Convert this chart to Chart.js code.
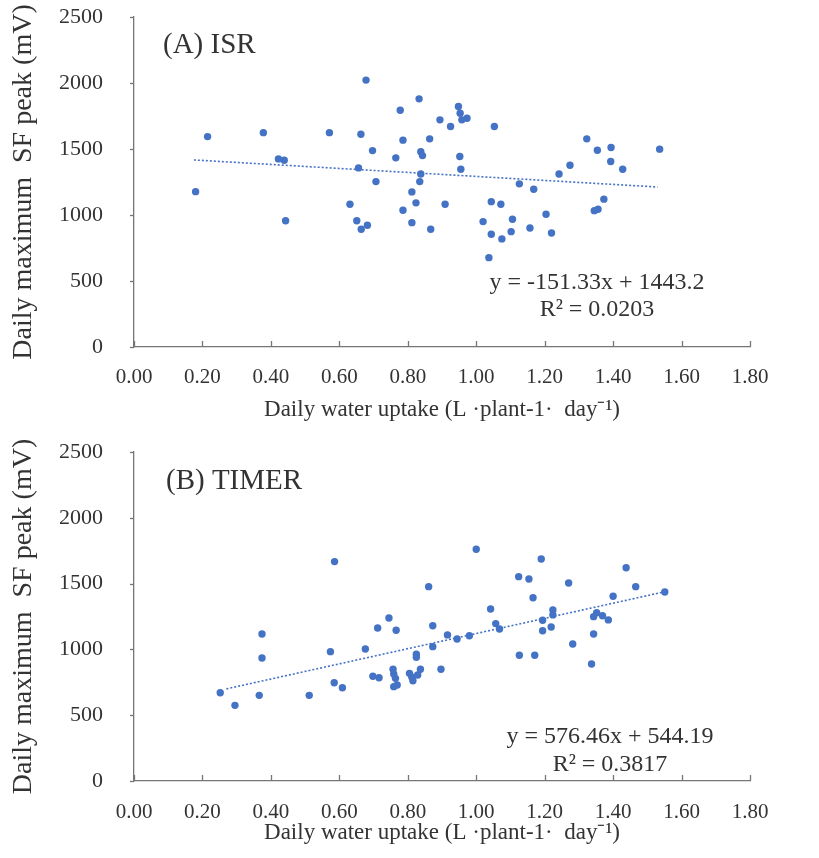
<!DOCTYPE html>
<html>
<head>
<meta charset="utf-8">
<script src="https://cdn.jsdelivr.net/npm/chart.js@4.4.1/dist/chart.umd.min.js"></script>
<style>
  html, body { margin: 0; padding: 0; background: #ffffff; }
  #wrap { position: relative; width: 819px; height: 858px; }
  canvas { position: absolute; left: 0; display: block; }
  #c1 { top: 0; }
  #c2 { top: 429px; }
</style>
</head>
<body>
<div id="wrap">
  <canvas id="c1" width="819" height="429"></canvas>
  <canvas id="c2" width="819" height="429"></canvas>
</div>
<script>
// ---------- DATA ----------
const xTickValues = [0, 0.2, 0.4, 0.6, 0.8, 1.0, 1.2, 1.4, 1.6, 1.8];
const yTickValues = [0, 500, 1000, 1500, 2000, 2500];

// (A) ISR
const isrWater = [0.18, 0.215, 0.378, 0.422, 0.439, 0.443, 0.571, 0.663, 0.678, 0.697,
  0.656, 0.707, 0.631, 0.651, 0.664, 0.682, 0.765, 0.778, 0.786, 0.833,
  0.838, 0.843, 0.838, 0.835, 0.812, 0.824, 0.786, 0.812, 0.867, 0.864,
  0.894, 0.925, 0.909, 0.948, 0.953, 0.958, 0.973, 0.952, 0.955, 1.053,
  1.126, 1.168, 1.044, 1.072, 1.020, 1.106, 1.044, 1.075, 1.102, 1.037,
  1.157, 1.204, 1.220, 1.242, 1.274, 1.323, 1.354, 1.394, 1.393, 1.428,
  1.373, 1.345, 1.356, 1.536];
const isrPeak = [1177, 1594, 1624, 1425, 1415, 957, 1624, 1612, 2022, 1488,
  1357, 1253, 1082, 957, 892, 922, 1433, 1794, 1567, 1880,
  1480, 1450, 1311, 1253, 1175, 1092, 1036, 942, 892, 1577,
  1721, 1670, 1082, 1822, 1771, 1721, 1733, 1443, 1347, 1670,
  1236, 1195, 1101, 1082, 950, 968, 854, 819, 874, 677,
  902, 1006, 864, 1311, 1377, 1577, 1491, 1511, 1405, 1347,
  1120, 1033, 1044, 1499];
const isrTrendX = [0.175, 1.53];
const isrTrendY = [1417, 1212];
const isrLabel = "(A) ISR";
const isrEquation = "y = -151.33x + 1443.2";
const isrR2 = "R\u00B2 = 0.0203";

// (B) TIMER
const timerWater = [0.252, 0.295, 0.366, 0.374, 0.374, 0.512, 0.574, 0.586, 0.585, 0.609,
  0.676, 0.698, 0.716, 0.712, 0.745, 0.766, 0.757, 0.759, 0.764, 0.759,
  0.769, 0.805, 0.812, 0.815, 0.829, 0.837, 0.825, 0.825, 0.861, 0.873,
  0.873, 0.897, 0.916, 0.944, 0.980, 1.000, 1.042, 1.057, 1.068, 1.124,
  1.154, 1.190, 1.166, 1.126, 1.171, 1.194, 1.194, 1.224, 1.224, 1.219,
  1.270, 1.282, 1.337, 1.343, 1.343, 1.352, 1.369, 1.386, 1.400, 1.438,
  1.466, 1.551];
const timerPeak = [671, 575, 651, 1117, 935, 651, 983, 1667, 747, 709,
  1003, 796, 785, 1163, 1239, 1145, 849, 813, 780, 717,
  730, 818, 788, 762, 806, 849, 963, 940, 1477, 1180,
  1021, 849, 1110, 1079, 1104, 1761, 1307, 1196, 1155, 1553,
  1535, 1687, 1393, 955, 955, 1221, 1142, 1300, 1262, 1170,
  1505, 1041, 889, 1117, 1249, 1279, 1256, 1224, 1404, 1621,
  1477, 1436];
const timerTrendX = [0.27, 1.542];
const timerTrendY = [700, 1433];
const timerLabel = "(B) TIMER";
const timerEquation = "y = 576.46x + 544.19";
const timerR2 = "R\u00B2 = 0.3817";

const xTitle = "Daily water uptake (L \u00B7plant-1\u00B7  day\u207B\u00B9)";
const yTitle = "Daily maximum  SF peak (mV)";

// ---------- STYLE ----------
const FONT = '"Liberation Serif", "Times New Roman", serif';
const TEXT = '#333333';
const AXIS = '#767676';
const DOT = '#4472C4';

const annotPlugin = {
  id: 'annot',
  afterDraw(chart) {
    const o = chart.options.plugins.annot;
    const { ctx } = chart;
    const xs = chart.scales.x, ys = chart.scales.y;
    ctx.save();
    ctx.strokeStyle = AXIS;
    ctx.lineWidth = 1.3;
    xs.ticks.forEach(t => {
      const px = Math.round(xs.getPixelForValue(t.value)) + 0.5;
      ctx.beginPath();
      ctx.moveTo(px, ys.bottom);
      ctx.lineTo(px, ys.bottom - 6);
      ctx.stroke();
    });
    ys.ticks.forEach(t => {
      const py = Math.round(ys.getPixelForValue(t.value)) + 0.5;
      ctx.beginPath();
      ctx.moveTo(xs.left, py);
      ctx.lineTo(xs.left - 4, py);
      ctx.stroke();
    });
    ctx.fillStyle = TEXT;
    ctx.textBaseline = 'middle';
    ctx.font = '29px ' + FONT;
    ctx.textAlign = 'left';
    ctx.fillText(o.label, o.labelX, o.labelY);
    ctx.font = '24px ' + FONT;
    ctx.textAlign = 'center';
    ctx.fillText(o.eq, o.eqX, o.eqY);
    ctx.fillText(o.r2, o.eqX, o.r2Y);
    ctx.restore();
  }
};

function makeChart(id, water, peak, trendX, trendY, annot, padTop, xAxisHeight, xTickPad, xTitlePad) {
  const pts = water.map((w, i) => ({ x: w, y: peak[i] }));
  const trend = trendX.map((w, i) => ({ x: w, y: trendY[i] }));
  return new Chart(document.getElementById(id), {
    type: 'scatter',
    data: {
      datasets: [
        {
          type: 'line',
          data: trend,
          borderColor: DOT,
          borderWidth: 1.6,
          borderDash: [2, 2],
          pointRadius: 0,
          fill: false,
          order: 2
        },
        {
          data: pts,
          backgroundColor: DOT,
          borderColor: DOT,
          pointRadius: 3.7,
          pointBorderWidth: 0,
          order: 1
        }
      ]
    },
    options: {
      responsive: false,
      animation: false,
      devicePixelRatio: 1,
      layout: { autoPadding: false, padding: { top: padTop, right: 69, left: 0, bottom: 0 } },
      plugins: {
        legend: { display: false },
        tooltip: { enabled: false },
        annot: annot
      },
      scales: {
        x: {
          type: 'linear',
          min: 0, max: 1.8,
          afterBuildTicks: s => { s.ticks = xTickValues.map(v => ({ value: v })); },
          afterFit: s => { s.height = xAxisHeight; },
          grid: { display: false, drawTicks: false },
          border: { display: true, color: AXIS, width: 1.3 },
          ticks: {
            padding: xTickPad,
            color: TEXT,
            font: { family: FONT, size: 21 },
            maxRotation: 0,
            callback: v => Number(v).toFixed(2)
          },
          title: {
            display: true,
            text: xTitle,
            color: TEXT,
            font: { family: FONT, size: 23 },
            padding: { top: 0, bottom: xTitlePad }
          }
        },
        y: {
          type: 'linear',
          min: 0, max: 2500,
          afterBuildTicks: s => { s.ticks = yTickValues.map(v => ({ value: v })); },
          afterFit: s => { s.width = 134; },
          grid: {
            display: true,
            drawOnChartArea: false,
            drawTicks: true,
            tickLength: 31,
            tickColor: 'rgba(0,0,0,0)'
          },
          border: { display: true, color: AXIS, width: 1.3 },
          ticks: {
            padding: 0,
            color: TEXT,
            font: { family: FONT, size: 22 },
            callback: v => String(v)
          },
          title: {
            display: true,
            text: yTitle,
            color: TEXT,
            font: { family: FONT, size: 28 },
            padding: { top: 7, bottom: 0 }
          }
        }
      }
    },
    plugins: [annotPlugin]
  });
}

makeChart('c1', isrWater, isrPeak, isrTrendX, isrTrendY,
  { label: isrLabel, labelX: 163, labelY: 45, eq: isrEquation, r2: isrR2, eqX: 597, eqY: 283, r2Y: 310 },
  17, 82, 18, 5);

makeChart('c2', timerWater, timerPeak, timerTrendX, timerTrendY,
  { label: timerLabel, labelX: 166, labelY: 52, eq: timerEquation, r2: timerR2, eqX: 610, eqY: 308, r2Y: 336 },
  23, 77, 19, 11);
</script>
</body>
</html>
